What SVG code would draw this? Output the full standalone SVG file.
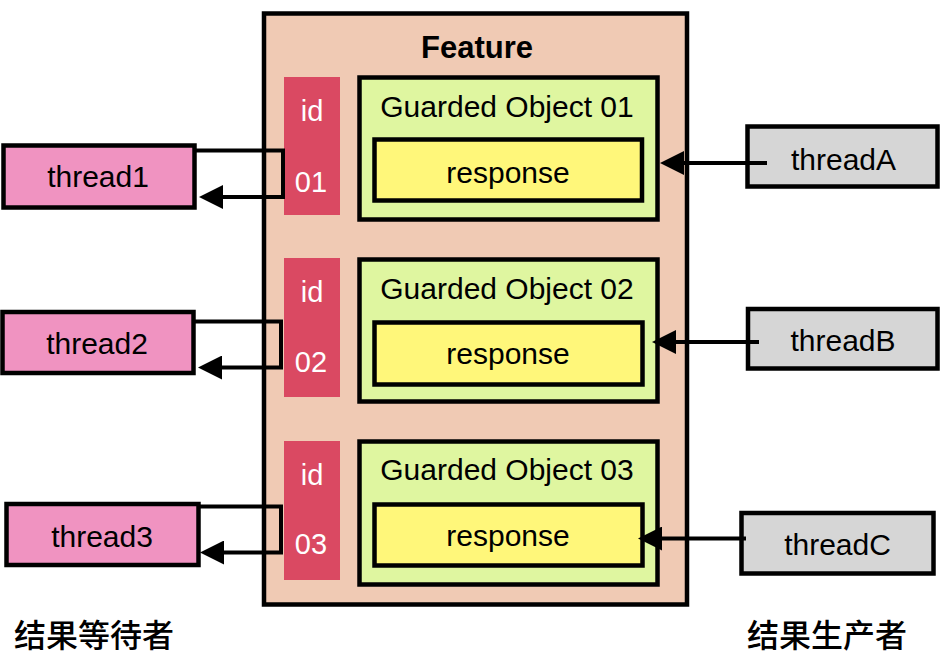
<svg xmlns="http://www.w3.org/2000/svg" width="940" height="660" viewBox="0 0 940 660">
<defs>
<style>
.box{stroke:#000;stroke-width:4.5}
.feature{fill:#F0CAB4}
.idbox{fill:#DA4962}
.guard{fill:#DFF6A0}
.resp{fill:#FFF77A}
.waiter{fill:#F093C1}
.producer{fill:#D6D6D6}
.t{font-family:"Liberation Sans",Arial,sans-serif;font-size:30px;fill:#000;text-anchor:middle}
.w{fill:#fff;font-size:29px}
.b{font-weight:bold;font-size:31px}
.cjk{font-family:"Noto Sans CJK SC",sans-serif;font-size:32px;font-weight:500;fill:#000}
.conn{fill:none;stroke:#000;stroke-width:4}
</style>
<marker id="arrow" markerUnits="userSpaceOnUse" markerWidth="24" markerHeight="24" refX="4" refY="12" orient="auto" viewBox="0 0 24 24">
<path d="M0,0 L24,12 L0,24 z" fill="#000"/>
</marker>
</defs>
<rect width="940" height="660" fill="#fff"/>
<g id="feature">
<rect class="box feature" x="264" y="13.5" width="423" height="591"/>
<text class="t b" x="477" y="58">Feature</text>
</g>
<g id="id01">
<rect class="idbox" x="284" y="77" width="56" height="138"/>
<text class="t w" x="312" y="121">id</text>
<text class="t w" x="311" y="192">01</text>
</g>
<g id="id02">
<rect class="idbox" x="284" y="258" width="56" height="139"/>
<text class="t w" x="312" y="302">id</text>
<text class="t w" x="311" y="372">02</text>
</g>
<g id="id03">
<rect class="idbox" x="284" y="441" width="56" height="139"/>
<text class="t w" x="312" y="485">id</text>
<text class="t w" x="311" y="554">03</text>
</g>
<g id="guarded01">
<rect class="box guard" x="359.5" y="77.5" width="298" height="142"/>
<text class="t" x="507" y="117">Guarded Object 01</text>
</g>
<g id="response01">
<rect class="box resp" x="374.5" y="139.5" width="267.5" height="61"/>
<text class="t" x="508" y="183">response</text>
</g>
<g id="guarded02">
<rect class="box guard" x="359.5" y="259.5" width="298" height="142"/>
<text class="t" x="507" y="299">Guarded Object 02</text>
</g>
<g id="response02">
<rect class="box resp" x="374.5" y="322.5" width="268" height="62"/>
<text class="t" x="508" y="364">response</text>
</g>
<g id="guarded03">
<rect class="box guard" x="359.5" y="441.5" width="298" height="143"/>
<text class="t" x="507" y="480">Guarded Object 03</text>
</g>
<g id="response03">
<rect class="box resp" x="374.5" y="504.5" width="268" height="61"/>
<text class="t" x="508" y="546">response</text>
</g>
<g id="thread1">
<rect class="box waiter" x="3.5" y="145.5" width="191" height="62"/>
<text class="t" x="98" y="187">thread1</text>
</g>
<g id="thread2">
<rect class="box waiter" x="2.5" y="312" width="191" height="61"/>
<text class="t" x="97" y="354">thread2</text>
</g>
<g id="thread3">
<rect class="box waiter" x="6.5" y="504" width="192" height="61"/>
<text class="t" x="102" y="547">thread3</text>
</g>
<g id="threadA">
<rect class="box producer" x="747.5" y="126.5" width="190" height="60"/>
<text class="t" x="843.5" y="170">threadA</text>
</g>
<g id="threadB">
<rect class="box producer" x="748" y="309" width="189.5" height="59.5"/>
<text class="t" x="843" y="351">threadB</text>
</g>
<g id="threadC">
<rect class="box producer" x="741.5" y="513" width="192" height="60.5"/>
<text class="t" x="837.5" y="555">threadC</text>
</g>
<g id="labels">
<text class="cjk" x="14" y="647">结果等待者</text>
<text class="cjk" x="747" y="647">结果生产者</text>
</g>
<g id="connectors">
<polyline class="conn" points="194.5,150.5 283,150.5 283,197 219,197" marker-end="url(#arrow)"/>
<polyline class="conn" points="193.5,321.5 281,321.5 281,367.5 218,367.5" marker-end="url(#arrow)"/>
<polyline class="conn" points="198.5,506.5 281,506.5 281,552.5 220,552.5" marker-end="url(#arrow)"/>
<line class="conn" x1="767" y1="163" x2="680" y2="163" marker-end="url(#arrow)"/>
<line class="conn" x1="759" y1="342" x2="672" y2="342" marker-end="url(#arrow)"/>
<line class="conn" x1="746" y1="538.5" x2="658" y2="538.5" marker-end="url(#arrow)"/>
</g>
</svg>
